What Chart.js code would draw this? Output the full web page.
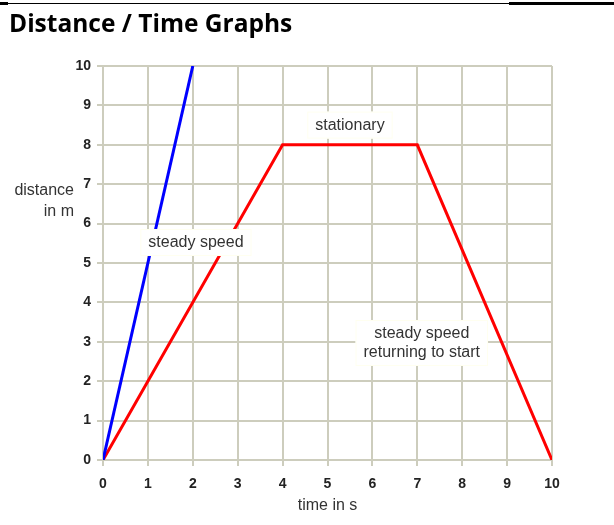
<!DOCTYPE html>
<html lang="en">
<head>
    <meta charset="UTF-8">
    <title>Distance / Time Graphs</title>
    <script src="https://cdn.jsdelivr.net/npm/chart.js"></script>
    <style>
        body { margin: 0; background: #fff; }
        .wrap { position: relative; width: 614px; height: 525px; overflow: hidden; }
        .rule { position: absolute; left: 0; top: 3px; width: 614px; border-top: 1px solid #000; }
        .rule-thick { position: absolute; left: 509px; top: 2px; width: 105px; height: 3px; background: #000; }
        .rule-left { position: absolute; left: 0; top: 2px; width: 8px; height: 3px; background: #000; }
        h1 {
            position: absolute; left: 9px; top: 11px; margin: 0;
            font: bold 24.5px/24.5px "Open Sans", sans-serif; color: #000;
            white-space: nowrap; z-index: 2;
        }
        .chart-container { position: absolute; left: 0; top: 0; width: 614px; height: 525px; }
    </style>
</head>
<body>
<div class="wrap">
    <div class="rule"></div>
    <div class="rule-left"></div>
    <div class="rule-thick"></div>
    <h1>Distance / Time Graphs</h1>
    <div class="chart-container">
        <canvas id="dtChart"></canvas>
    </div>
</div>

<script>
    // data
    const timeTicks = [0, 1, 2, 3, 4, 5, 6, 7, 8, 9, 10];
    const distanceTicks = [0, 1, 2, 3, 4, 5, 6, 7, 8, 9, 10];
    const fastTime = [0, 2];
    const fastDistance = [0, 10];
    const slowTime = [0, 4, 7, 10];
    const slowDistance = [0, 8, 8, 0];
    const noteLines = [['stationary'], ['steady speed'], ['steady speed', 'returning to start']];
    const noteTime = [5.5, 2.07, 7.1];
    const noteDistance = [8.5, 5.52, 2.97];
    const yTitle = ['distance', 'in m'];
    const xTitle = 'time in s';

    const gridColor = '#cdcdbd';
    const textColor = '#333';
    const sans = 'Arial, "Liberation Sans", sans-serif';

    function toPoints(xs, ys) {
        return xs.map((x, i) => ({ x: x, y: ys[i] }));
    }

    // white label boxes drawn on top of the lines
    const notesPlugin = {
        id: 'notes',
        afterDatasetsDraw(chart) {
            const c = chart.ctx;
            const xs = chart.scales.x, ys = chart.scales.y;
            c.save();
            c.font = '16px ' + sans;
            c.textAlign = 'center';
            c.textBaseline = 'middle';
            const lh = 19;
            noteLines.forEach((lines, i) => {
                const cx = xs.getPixelForValue(noteTime[i]);
                const cy = ys.getPixelForValue(noteDistance[i]);
                const w = Math.max(...lines.map(l => c.measureText(l).width)) + 16;
                const h = lines.length * lh + 8;
                c.fillStyle = '#fff';
                c.fillRect(cx - w / 2, cy - h / 2, w, h);
                c.strokeStyle = '#fffff0';
                c.lineWidth = 1;
                c.strokeRect(cx - w / 2 + 0.5, cy - h / 2 + 0.5, w - 1, h - 1);
                c.fillStyle = textColor;
                lines.forEach((l, k) => {
                    c.fillText(l, cx, cy + (k - (lines.length - 1) / 2) * lh);
                });
            });
            // y axis title, horizontal and right aligned
            c.textAlign = 'right';
            const tx = chart.chartArea.left - 29;
            const ty = ys.getPixelForValue(6.57);
            yTitle.forEach((l, k) => {
                c.fillText(l, tx, ty + (k - 0.5) * 21);
            });
            c.restore();
        }
    };

    const ctx = document.getElementById('dtChart').getContext('2d');
    const chart = new Chart(ctx, {
        type: 'line',
        data: {
            datasets: [{
                data: toPoints(fastTime, fastDistance),
                borderColor: '#0000ff',
                borderWidth: 3,
                pointRadius: 0,
                tension: 0
            }, {
                data: toPoints(slowTime, slowDistance),
                borderColor: '#ff0000',
                borderWidth: 3,
                pointRadius: 0,
                tension: 0
            }]
        },
        options: {
            responsive: true,
            maintainAspectRatio: false,
            animation: false,
            layout: { padding: { top: 66, right: 62, left: 0, bottom: 0 } },
            plugins: { legend: { display: false }, tooltip: { enabled: false } },
            scales: {
                x: {
                    type: 'linear',
                    min: 0,
                    max: 10,
                    afterBuildTicks: (s) => { s.ticks = timeTicks.map(v => ({ value: v })); },
                    afterFit: (s) => { s.height = 65; },
                    grid: { color: gridColor, lineWidth: 2, tickLength: 6, tickColor: gridColor },
                    border: { color: gridColor, width: 2 },
                    ticks: {
                        padding: 10,
                        color: '#222',
                        maxRotation: 0,
                        font: { family: sans, size: 14, weight: 'bold' }
                    },
                    title: {
                        display: true,
                        text: xTitle,
                        color: textColor,
                        padding: { top: 2, bottom: 10 },
                        font: { family: sans, size: 16 }
                    }
                },
                y: {
                    min: 0,
                    max: 10,
                    afterBuildTicks: (s) => { s.ticks = distanceTicks.map(v => ({ value: v })); },
                    afterFit: (s) => { s.width = 103; },
                    grid: { color: gridColor, lineWidth: 2, tickLength: 6, tickColor: gridColor },
                    border: { color: gridColor, width: 2 },
                    ticks: {
                        padding: 6,
                        color: '#222',
                        font: { family: sans, size: 14, weight: 'bold' }
                    }
                }
            }
        },
        plugins: [notesPlugin]
    });
</script>
</body>
</html>
